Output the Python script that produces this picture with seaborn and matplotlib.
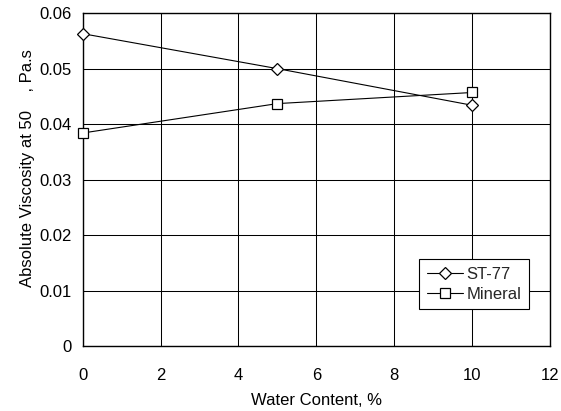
import matplotlib
matplotlib.use("Agg")
import matplotlib.pyplot as plt
import seaborn as sns
import pandas as pd

water = [0, 5, 10]
st77 = [0.0563, 0.0500, 0.0434]
mineral = [0.0384, 0.0437, 0.0457]
xticks = [0, 2, 4, 6, 8, 10, 12]
yticks = [0, 0.01, 0.02, 0.03, 0.04, 0.05, 0.06]
ytick_labels = ["0", "0.01", "0.02", "0.03", "0.04", "0.05", "0.06"]

sns.set_style("white")
plt.rcParams['font.family'] = ['Liberation Sans', 'DejaVu Sans']

fig = plt.figure(figsize=(5.61, 4.11), dpi=100)
ax = fig.add_axes([0.1474, 0.158, 0.833, 0.810])

df = pd.DataFrame({
    "x": water * 2,
    "y": st77 + mineral,
    "series": ["ST-77"] * 3 + ["Mineral"] * 3,
})
sns.lineplot(data=df, x="x", y="y", hue="series", style="series",
             markers={"ST-77": "D", "Mineral": "s"}, dashes=False,
             palette={"ST-77": "black", "Mineral": "black"},
             markerfacecolor="white", markeredgecolor="black",
             markeredgewidth=0.9, markersize=7, linewidth=0.8, ax=ax)
for line in ax.lines:
    if line.get_marker() == "D":
        line.set_markersize(5.8)
    elif line.get_marker() == "s":
        line.set_markersize(7.5)
    line.set_markerfacecolor("white")
    line.set_markeredgecolor("black")
    line.set_clip_on(False)
    line.set_zorder(5)

ax.set_xlim(0, 12)
ax.set_ylim(0, 0.06)
ax.set_xticks(xticks)
ax.set_yticks(yticks)
ax.set_yticklabels(ytick_labels)
ax.grid(True, color="black", linewidth=0.75)
ax.set_axisbelow(True)
for s in ax.spines.values():
    s.set_color("black")
    s.set_linewidth(1.0)
ax.tick_params(axis="both", labelsize=12, length=0, colors="black")
ax.tick_params(axis="x", pad=16)
ax.tick_params(axis="y", pad=8)
ax.set_xlabel("Water Content, %", fontsize=12, color="black", labelpad=7)
ax.set_ylabel("Absolute Viscosity at 50    , Pa.s", fontsize=12, color="black")
ax.yaxis.set_label_coords(-0.102, 0.535)

leg = ax.legend(loc="lower right", bbox_to_anchor=(0.955, 0.111), fontsize=12,
                frameon=True, fancybox=False, edgecolor="black", framealpha=1,
                handlelength=2.2, handletextpad=0.2, borderpad=0.45, labelspacing=0.3,
                borderaxespad=0, title=None)
leg.get_frame().set_linewidth(0.8)

fig.savefig("out.png", dpi=100)
